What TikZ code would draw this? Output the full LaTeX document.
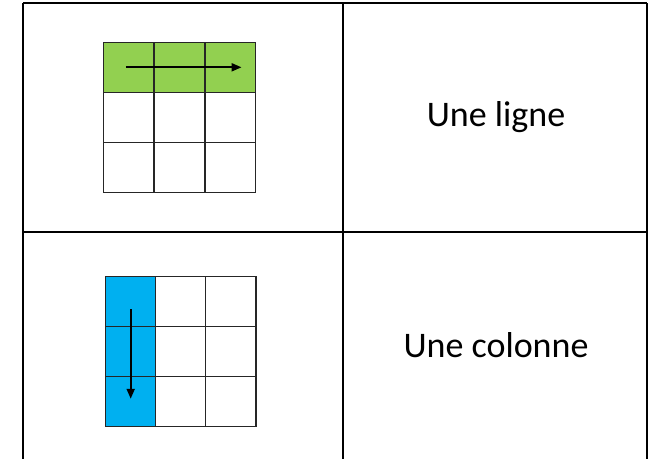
\documentclass[tikz,border=0pt]{standalone}
\usepackage{fontspec}
\setmainfont{Carlito}
\usepackage{tikz}
\usetikzlibrary{arrows.meta,positioning}
\definecolor{rowgreen}{HTML}{92D050}
\definecolor{colblue}{HTML}{00B0F0}
\tikzset{
  cellbox/.style={rectangle, draw=black!85, line width=1.3pt, inner sep=0pt,
                  minimum width=50.5pt, minimum height=50pt, fill=#1},
  cellbox/.default=white,
  rule/.style={line width=2pt, draw=black},
  caption/.style={font=\fontsize{36}{43}\selectfont, inner sep=0pt},
  arr/.style={-{Triangle[length=10pt, width=8pt]}, line width=2pt, draw=black},
}

\begin{document}
\begin{tikzpicture}[x=1pt, y=-1pt]
  \useasboundingbox (0,0) rectangle (652,458);
  % outer table
  \coordinate (tl) at (23,3);
  \coordinate (tm) at (343,3);
  \coordinate (tr) at (647,3);
  \coordinate (ml) at (23,232);
  \coordinate (mr) at (647,232);
  \coordinate (bl) at (23,459);
  \coordinate (bm) at (343,459);
  \coordinate (br) at (647,459);
  \draw[rule] (tl) -- (tr);
  \draw[rule] (ml) -- (mr);
  \draw[rule] (tl) -- (bl);
  \draw[rule] (tm) -- (bm);
  \draw[rule] (tr) -- (br);

  % first grid: one row
  \foreach \r in {1,2,3}
    \foreach \c in {1,2,3} {
      \ifnum\r=1
        \node[cellbox=rowgreen] (l-\r-\c) at ({103.3+50.9*(\c-0.5)},{42.3+50*(\r-0.5)}) {};
      \else
        \node[cellbox] (l-\r-\c) at ({103.3+50.9*(\c-0.5)},{42.3+50*(\r-0.5)}) {};
      \fi
    }
  \draw[arr] ([xshift=-3pt]l-1-1.center) -- ([xshift=11pt]l-1-3.center);

  % second grid: one column
  \foreach \r in {1,2,3}
    \foreach \c in {1,2,3} {
      \ifnum\c=1
        \node[cellbox=colblue] (k-\r-\c) at ({105.7+50*(\c-0.5)},{276+50.3*(\r-0.5)}) {};
      \else
        \node[cellbox] (k-\r-\c) at ({105.7+50*(\c-0.5)},{276+50.3*(\r-0.5)}) {};
      \fi
    }
  \draw[arr] ([yshift=-8pt]k-1-1.center) -- ([yshift=3pt]k-3-1.center);

  % labels
  \node[caption] (ligne) at (496,117) {Une ligne};
  \node[caption] (colonne) at (496,345) {Une colonne};
\end{tikzpicture}
\end{document}
